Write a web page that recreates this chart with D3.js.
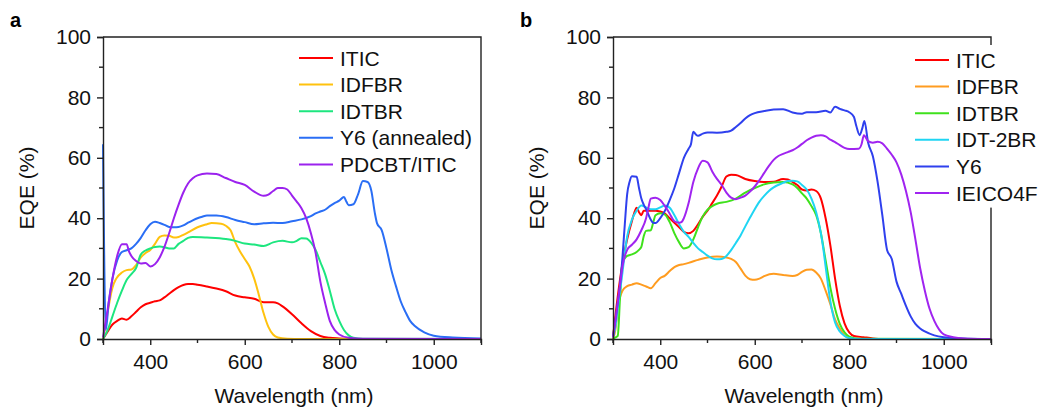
<!DOCTYPE html>
<html>
<head>
<meta charset="utf-8">
<script src="https://cdn.jsdelivr.net/npm/d3@7"></script>
<style>
  body { margin: 0; background: #fff; }
  svg { display: block; font-family: "Liberation Sans", Arial, sans-serif; }
</style>
</head>
<body>
<svg id="chart" width="1042" height="409"></svg>
<script>
// EQE spectra, two panels (a, b)

// x ticks / y ticks shared by both panels
const xTicks = [400, 600, 800, 1000];
const xMinor = [300, 500, 700, 900, 1100];
const yTicks = [0, 20, 40, 60, 80, 100];
const yMinor = [10, 30, 50, 70, 90];

// ---- panel a ----
const namesA = ["ITIC", "IDFBR", "IDTBR", "Y6 (annealed)", "PDCBT/ITIC"];
const colorsA = ["#ff0000", "#ffc20e", "#1de67f", "#2a6ef5", "#9b22ee"];

const iticA = [[300,0],[310,2.5],[320,4.8],[330,6],[340,6.8],[350,6.4],[360,7.5],[370,9],[380,10.5],[390,11.5],[400,12],[410,12.5],[420,12.8],[430,13.8],[440,15],[450,16.2],[460,17.2],[470,17.9],[480,18.2],[490,18.2],[500,18],[520,17.4],[540,16.7],[560,15.8],[580,14.4],[600,13.8],[620,13.3],[640,12.2],[660,12.2],[670,11.8],[680,10.8],[700,8.2],[720,5.2],[740,2.6],[760,1],[780,0.4],[800,0.2],[850,0],[1100,0]];
const idfbrA = [[300,0],[305,4],[310,9],[320,17],[328,20],[340,22],[350,22.8],[360,23],[370,24.5],[380,27],[390,28.5],[400,29.5],[410,31.5],[420,33.8],[430,34.3],[440,34.2],[450,33.6],[460,33.8],[470,34.5],[480,35.3],[500,37],[520,38],[530,38.4],[550,38.2],[560,37.5],[570,36],[580,32],[590,29],[600,26.5],[610,24],[620,20],[630,14.5],[640,8.5],[650,4],[660,1.5],[670,0.5],[690,0.1],[720,0],[1100,0]];
const idtbrA = [[300,0],[310,3],[320,7.5],[330,12],[340,16],[350,19.5],[360,21.5],[370,23.5],[380,28],[390,29.3],[400,30],[410,30.5],[420,30.6],[430,30.4],[440,30],[450,30],[460,31.5],[470,32.5],[480,33.5],[490,33.8],[520,33.6],[560,33.1],[580,32.5],[600,31.6],[620,31.3],[640,30.8],[660,32],[680,32.5],[700,32],[710,32.5],[720,33.4],[730,33.3],[740,32],[750,29.5],[760,25.5],[770,21.5],[780,16],[790,10],[800,6],[810,3],[820,1.2],[830,0.4],[850,0.1],[1100,0]];
const y6A = [[300,64.5],[306,3],[312,12],[320,20],[330,26],[340,28.8],[350,29.4],[360,30],[370,31.5],[380,33.5],[390,36],[400,38],[410,38.8],[420,38.4],[430,37.8],[440,37.1],[450,37],[460,37.1],[470,37.6],[480,38.5],[490,39.3],[500,40],[510,40.5],[520,40.9],[540,40.9],[560,40.4],[580,39.4],[600,38.7],[620,38],[640,38.3],[660,38.5],[680,38.4],[700,39],[720,39.6],[740,40.7],[750,41.6],[760,42.2],[770,42.8],[780,44],[790,45],[800,45.8],[810,47],[815,45.5],[820,44.3],[830,44.6],[840,48],[850,52.3],[860,52],[868,49],[875,42],[880,38.3],[890,36],[900,30],[910,23],[920,17.5],[930,12.5],[940,9],[950,6],[960,4.3],[980,2.2],[1000,1.1],[1040,0.5],[1100,0.2]];
const pdcbtA = [[300,0.5],[310,10],[320,20],[330,27.5],[340,31.4],[350,31.4],[355,29],[360,27.5],[370,25.8],[380,25],[390,25.2],[400,24],[410,24.8],[420,27],[430,30.5],[440,35],[450,40],[460,44.5],[470,48.5],[480,51.5],[490,53.2],[500,54.2],[520,54.8],[540,54.6],[560,53.3],[580,52],[600,51],[620,48.8],[640,47.4],[650,47.8],[660,49],[670,50],[680,50],[690,49.5],[700,47.5],[710,45.5],[720,43.3],[730,40],[740,35],[750,28.5],[760,19],[770,12],[780,6],[790,3],[800,1.5],[820,0.4],[850,0.1],[1100,0]];

// ---- panel b ----
const namesB = ["ITIC", "IDFBR", "IDTBR", "IDT-2BR", "Y6", "IEICO4F"];
const colorsB = ["#ff0000", "#ff9c20", "#3fe11c", "#1fd5f3", "#2f40ee", "#a024f0"];

const iticB = [[300,0.5],[310,14],[320,25],[330,33],[340,39],[350,43.5],[355,42],[360,41],[365,42.5],[380,42.5],[390,42.5],[400,42.2],[410,41.5],[420,40],[430,38.5],[440,37],[450,35.5],[460,35],[470,35.8],[480,38],[490,40.5],[500,42.5],[510,45],[520,47.5],[530,50.5],[540,53.8],[550,54.4],[560,54.3],[580,53],[600,52.3],[620,52],[640,52.1],[660,53],[670,52.8],[680,52],[690,51],[700,49.5],[710,49.2],[720,49.5],[730,49],[740,46.5],[750,40],[760,31],[770,20],[780,11],[790,5.2],[800,2.2],[810,1],[830,0.6],[850,0.2],[870,0],[1100,0]];
const idfbrB = [[300,0],[305,3],[310,10],[320,16],[330,17.5],[340,18],[350,18.5],[360,18],[370,17.4],[380,16.8],[390,18.5],[400,20.2],[410,21],[420,22.5],[430,23.8],[440,24.5],[450,24.8],[460,25.2],[480,26.2],[500,27],[520,27.3],[540,27],[550,26.5],[560,25.5],[570,23.3],[580,21],[590,19.8],[600,19.6],[610,20],[620,20.8],[640,21.6],[660,21.2],[680,20.9],[690,21.2],[700,22.2],[710,22.9],[720,23],[730,22],[740,20],[750,16],[760,11.5],[770,6.5],[780,3.5],[790,1.2],[800,0.3],[820,0],[1100,0]];
const idtbrB = [[300,0],[305,0.5],[310,1],[315,14],[320,25],[330,27.5],[340,28],[350,28.8],[355,29.5],[360,30.5],[365,34],[370,35.8],[380,36],[385,38.5],[390,41],[400,41.6],[410,41.2],[420,38.7],[430,35],[440,32],[450,30],[460,30.4],[470,33],[480,37],[490,40.6],[500,42.8],[510,44],[520,44.8],[540,45.4],[560,46.5],[580,48.5],[600,50],[620,51.2],[640,51.8],[660,52],[680,51.2],[690,50],[700,48.2],[710,46.5],[720,44],[730,41],[740,35],[750,26],[760,17],[770,10],[780,5],[790,2.2],[800,0.8],[820,0.1],[1100,0]];
const idt2brB = [[300,0.5],[305,4],[310,10],[320,22],[330,34],[340,39.5],[350,42.5],[360,44.2],[370,43.6],[380,43],[390,43],[400,43.6],[410,44.2],[420,43.5],[430,41],[440,38],[450,35.5],[460,33.8],[470,31.8],[480,30],[490,28.8],[500,27.6],[510,26.7],[520,26.4],[530,26.5],[540,27.5],[550,29.4],[560,31.8],[570,34.3],[580,37.3],[590,40.2],[600,43],[610,45.5],[620,47.4],[630,49],[640,50.2],[660,51.7],[670,52.3],[680,52.4],[690,52.2],[700,51],[710,49.5],[720,46.5],[730,42],[740,35],[745,30],[750,24],[760,12.5],[770,5.5],[780,2.5],[790,1],[800,0.3],[820,0],[1100,0]];
const y6B = [[300,1],[305,6],[310,12],[315,18],[320,27],[325,38],[330,48],[335,52],[340,53.9],[350,53.7],[355,50],[360,46.5],[365,44.5],[370,43],[380,39.5],[385,38.5],[390,38.4],[400,40],[410,42.5],[420,46],[430,50],[440,55],[450,60],[460,63],[465,64.5],[470,68.6],[475,67.8],[480,67.3],[490,68],[500,68.4],[520,68.3],[540,68.6],[550,69],[560,70.2],[570,71.5],[580,73],[590,74.1],[600,74.8],[620,75.5],[640,76],[660,76.1],[680,75],[700,74.6],[710,75.1],[730,75.1],[750,75.6],[760,75],[770,76.9],[780,76.2],[790,75.7],[800,75.1],[810,73.5],[815,70.5],[822,67.5],[828,70],[832,72.2],[840,65],[850,60.5],[860,52],[870,41],[880,29.5],[890,26.5],[900,19],[910,15],[920,11],[930,7.5],[940,5],[950,3.5],[960,2.5],[980,1.2],[1000,0.6],[1040,0.2],[1100,0]];
const ieicoB = [[300,0.5],[305,6],[310,12],[315,18],[320,24],[330,29.5],[340,31.2],[350,33],[360,36],[370,40],[375,43.5],[380,46.5],[390,46.8],[400,46],[410,44],[420,41.5],[430,39],[440,38.5],[445,38.7],[450,40],[460,45],[470,52],[480,56.5],[490,59],[500,58.5],[510,55.5],[520,53],[530,51],[540,48.5],[550,46.8],[560,46.3],[570,46.8],[580,47.5],[590,48.8],[600,50.5],[610,52.6],[620,55],[630,57.3],[640,59.3],[650,60.6],[660,61.3],[670,61.9],[680,62.5],[690,63.4],[700,64.6],[710,65.8],[720,66.7],[730,67.3],[740,67.5],[750,67.1],[760,66],[770,65.2],[780,64.2],[790,63.3],[800,62.9],[820,63],[826,64.5],[831,67.5],[840,65.5],[850,65],[860,65.3],[870,64.8],[880,63],[890,61],[900,58.5],[910,54.5],[920,49],[930,42],[940,33],[950,23.5],[960,16],[970,10],[980,6],[990,3.2],[1000,1.5],[1020,0.6],[1050,0.1],[1100,0]];

const svg = d3.select('#chart');
const plotTop = 37, plotBottom = 339;
const fontSize = 21;

function drawPanel(opts) {
    let x = d3.scaleLinear().domain([300, 1100]).range([opts.left, opts.right]);
    let y = d3.scaleLinear().domain([0, 100]).range([plotBottom, plotTop]);
    let g = svg.append('g');

    // curves
    let line = d3.line().x(d => x(d[0])).y(d => y(d[1])).curve(d3.curveMonotoneX);
    opts.series.forEach((s, i) => {
        g.append('path')
         .attr('d', line(s))
         .attr('fill', 'none')
         .attr('stroke', opts.colors[i])
         .attr('stroke-width', 2)
         .attr('stroke-linejoin', 'round');
    });

    // frame (top + right)
    g.append('path')
     .attr('d', `M${opts.left},${plotTop}H${opts.right}V${plotBottom}`)
     .attr('fill', 'none').attr('stroke', '#222').attr('stroke-width', 1.4);

    // bottom axis
    let xAxis = g.append('g').attr('transform', `translate(0,${plotBottom})`)
                 .call(d3.axisBottom(x).tickValues(xTicks).tickFormat(d3.format('d')).tickSize(6).tickPadding(9));
    xAxis.append('g').selectAll('line').data(xMinor).enter().append('line')
         .attr('x1', d => x(d)).attr('x2', d => x(d))
         .attr('y1', 0).attr('y2', 4).attr('stroke', '#222').attr('stroke-width', 1.4);

    // left axis
    let yAxis = g.append('g').attr('transform', `translate(${opts.left},0)`)
                 .call(d3.axisLeft(y).tickValues(yTicks).tickFormat(d3.format('d')).tickSize(6).tickPadding(6));
    yAxis.append('g').selectAll('line').data(yMinor).enter().append('line')
         .attr('x1', 0).attr('x2', -4)
         .attr('y1', d => y(d)).attr('y2', d => y(d)).attr('stroke', '#222').attr('stroke-width', 1.4);

    [xAxis, yAxis].forEach(ax => {
        ax.select('.domain').attr('stroke', '#222').attr('stroke-width', 1.4);
        ax.selectAll('.tick line').attr('stroke', '#222').attr('stroke-width', 1.4);
        ax.selectAll('.tick text').attr('fill', '#111').style('font-size', fontSize + 'px');
    });

    // axis titles
    g.append('text')
     .attr('x', (opts.left + opts.right) / 2 + 2).attr('y', 403)
     .attr('text-anchor', 'middle').style('font-size', fontSize + 'px').attr('fill', '#111')
     .text('Wavelength (nm)');
    g.append('text')
     .attr('transform', `translate(${opts.left - 69},${(plotTop + plotBottom) / 2}) rotate(-90)`)
     .attr('text-anchor', 'middle').style('font-size', fontSize + 'px').attr('fill', '#111')
     .text('EQE (%)');

    // panel letter
    g.append('text')
     .attr('x', opts.left - 93).attr('y', 27)
     .style('font-size', '20px').style('font-weight', 'bold')
     .text(opts.letter);

    // legend (white box hides frame behind it)
    let leg = g.append('g');
    if (opts.legendBg) {
        leg.append('rect')
           .attr('x', opts.legX - 1).attr('y', opts.legY - 15)
           .attr('width', 1042 - opts.legX + 1).attr('height', opts.names.length * 26.6 + 3)
           .attr('fill', '#fff');
    }
    opts.names.forEach((n, i) => {
        let yy = opts.legY + i * 26.6;
        leg.append('line')
           .attr('x1', opts.legX).attr('x2', opts.legX + 34)
           .attr('y1', yy).attr('y2', yy)
           .attr('stroke', opts.colors[i]).attr('stroke-width', 2);
        leg.append('text')
           .attr('x', opts.legX + 41).attr('y', yy + 7.5)
           .style('font-size', fontSize + 'px').attr('fill', '#111')
           .text(n);
    });
}

drawPanel({
    left: 103, right: 481, letter: 'a',
    series: [iticA, idfbrA, idtbrA, y6A, pdcbtA],
    names: namesA, colors: colorsA,
    legX: 299, legY: 58, legendBg: false
});

drawPanel({
    left: 613, right: 991, letter: 'b',
    series: [iticB, idfbrB, idtbrB, idt2brB, y6B, ieicoB],
    names: namesB, colors: colorsB,
    legX: 915, legY: 60, legendBg: true
});
</script>
</body>
</html>
